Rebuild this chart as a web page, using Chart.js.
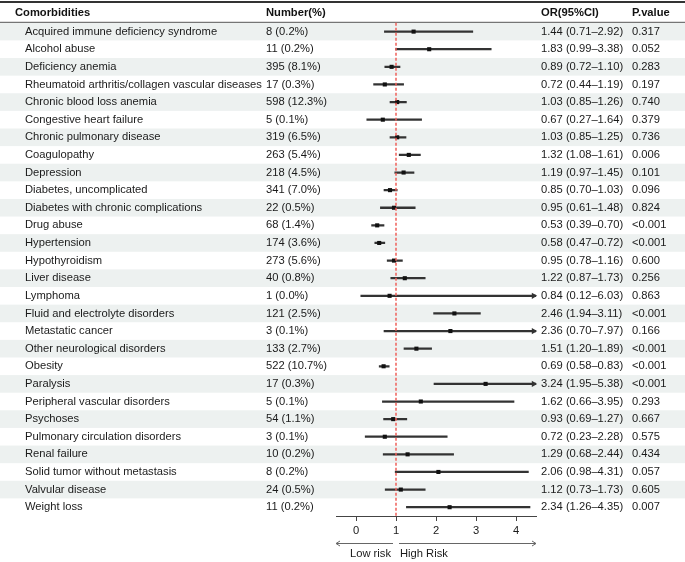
<!DOCTYPE html>
<html>
<head>
<meta charset="utf-8">
<script src="https://cdn.jsdelivr.net/npm/chart.js@4.4.1/dist/chart.umd.min.js"></script>
<style>
  html, body { margin: 0; padding: 0; background: #ffffff; }
  #wrap { width: 685px; height: 562px; }
</style>
</head>
<body>
<div id="wrap"><canvas id="c" width="685" height="562"></canvas></div>
<script>
// ---------------- data ----------------
const comorbidities = [
  "Acquired immune deficiency syndrome", "Alcohol abuse", "Deficiency anemia",
  "Rheumatoid arthritis/collagen vascular diseases", "Chronic blood loss anemia",
  "Congestive heart failure", "Chronic pulmonary disease", "Coagulopathy", "Depression",
  "Diabetes, uncomplicated", "Diabetes with chronic complications", "Drug abuse",
  "Hypertension", "Hypothyroidism", "Liver disease", "Lymphoma",
  "Fluid and electrolyte disorders", "Metastatic cancer", "Other neurological disorders",
  "Obesity", "Paralysis", "Peripheral vascular disorders", "Psychoses",
  "Pulmonary circulation disorders", "Renal failure", "Solid tumor without metastasis",
  "Valvular disease", "Weight loss"
];
const counts   = [8, 11, 395, 17, 598, 5, 319, 263, 218, 341, 22, 68, 174, 273, 40, 1, 121, 3, 133, 522, 17, 5, 54, 3, 10, 8, 24, 11];
const percents = [0.2, 0.2, 8.1, 0.3, 12.3, 0.1, 6.5, 5.4, 4.5, 7.0, 0.5, 1.4, 3.6, 5.6, 0.8, 0.0, 2.5, 0.1, 2.7, 10.7, 0.3, 0.1, 1.1, 0.1, 0.2, 0.2, 0.5, 0.2];
const orValues = [1.44, 1.83, 0.89, 0.72, 1.03, 0.67, 1.03, 1.32, 1.19, 0.85, 0.95, 0.53, 0.58, 0.95, 1.22, 0.84, 2.46, 2.36, 1.51, 0.69, 3.24, 1.62, 0.93, 0.72, 1.29, 2.06, 1.12, 2.34];
const ciLow    = [0.71, 0.99, 0.72, 0.44, 0.85, 0.27, 0.85, 1.08, 0.97, 0.70, 0.61, 0.39, 0.47, 0.78, 0.87, 0.12, 1.94, 0.70, 1.20, 0.58, 1.95, 0.66, 0.69, 0.23, 0.68, 0.98, 0.73, 1.26];
const ciHigh   = [2.92, 3.38, 1.10, 1.19, 1.26, 1.64, 1.25, 1.61, 1.45, 1.03, 1.48, 0.70, 0.72, 1.16, 1.73, 6.03, 3.11, 7.97, 1.89, 0.83, 5.38, 3.95, 1.27, 2.28, 2.44, 4.31, 1.73, 4.35];
const pValues  = ["0.317", "0.052", "0.283", "0.197", "0.740", "0.379", "0.736", "0.006", "0.101", "0.096", "0.824", "<0.001", "<0.001", "0.600", "0.256", "0.863", "<0.001", "0.166", "<0.001", "<0.001", "<0.001", "0.293", "0.667", "0.575", "0.434", "0.057", "0.605", "0.007"];
const headers  = ["Comorbidities", "Number(%)", "OR(95%CI)", "P.value"];
const xTicks   = [0, 1, 2, 3, 4];
const xMin = -0.5, xMax = 4.5;
const refValue = 1;
const riskLabels = ["Low risk", "High Risk"];

// ---------------- derived ----------------
const FONT = "'Liberation Sans', Arial, Helvetica, sans-serif";
const FS = 11.2;
const TXT = '#1a1a1a';
const numberLabels = counts.map((n, i) => `${n} (${percents[i].toFixed(1)}%)`);
const orLabels = orValues.map((v, i) => `${v.toFixed(2)} (${ciLow[i].toFixed(2)}–${ciHigh[i].toFixed(2)})`);
const ciData = comorbidities.map((c, i) => [ciLow[i], Math.min(ciHigh[i], xMax)]);
const pointData = comorbidities.map((c, i) => ({ x: orValues[i], y: c }));
const arrowData = comorbidities
  .map((c, i) => (ciHigh[i] > xMax ? { x: xMax - 0.06, y: c } : null))
  .filter(Boolean);

Chart.defaults.font.family = FONT;
Chart.defaults.font.size = FS;
Chart.defaults.color = TXT;

const W = 685, H = 562;
const TOP = 22.8, BOTTOM = 516;

function catAxis(labels, position, weight, width, crossAlign, pad) {
  return {
    type: 'category', axis: 'y', labels, position, weight, offset: true,
    grid: { display: false, drawTicks: false, offset: true },
    border: { display: false },
    ticks: { autoSkip: false, crossAlign, padding: pad, color: TXT, font: { size: FS, family: FONT } },
    afterFit: s => { s.width = width; }
  };
}

const decor = {
  id: 'forestDecor',
  beforeDraw(chart) {
    const { ctx, chartArea, scales } = chart;
    const y = scales.y;
    const rowH = (y.bottom - y.top) / comorbidities.length;
    ctx.save();
    ctx.fillStyle = '#edf1f0';
    comorbidities.forEach((c, i) => {
      if (i % 2 === 0) {
        const yc = y.getPixelForValue(i);
        ctx.fillRect(0, yc - rowH / 2, chart.width, rowH);
      }
    });
    ctx.fillStyle = '#333333';
    ctx.fillRect(0, 1, chart.width, 2);
    ctx.fillStyle = '#555555';
    ctx.fillRect(0, chartArea.top - 1, chart.width, 1);
    ctx.font = `bold ${FS}px ${FONT}`;
    ctx.fillStyle = '#111111';
    ctx.textBaseline = 'middle';
    ctx.textAlign = 'left';
    const hy = 12.8;
    ctx.fillText(headers[0], 15, hy);
    ctx.fillText(headers[1], scales.yNum.left, hy);
    ctx.fillText(headers[2], scales.yOR.left + 5, hy);
    ctx.fillText(headers[3], scales.yP.left, hy);
    ctx.restore();
  },
  afterDatasetsDraw(chart) {
    const { ctx, chartArea, scales } = chart;
    const xr = scales.x.getPixelForValue(refValue);
    ctx.save();
    ctx.strokeStyle = '#f0605a';
    ctx.lineWidth = 1.5;
    ctx.setLineDash([3, 2]);
    ctx.beginPath();
    ctx.moveTo(xr, chartArea.top);
    ctx.lineTo(xr, chartArea.bottom);
    ctx.stroke();
    ctx.restore();
  },
  afterDraw(chart) {
    const { ctx, scales } = chart;
    const x = scales.x;
    const xr = x.getPixelForValue(refValue);
    const x0 = x.getPixelForValue(xMin);
    const x1 = x.getPixelForValue(xMax);
    const ay = 543.5;
    ctx.save();
    ctx.strokeStyle = '#666666';
    ctx.lineWidth = 1;
    ctx.beginPath();
    ctx.moveTo(xr - 3, ay); ctx.lineTo(x0, ay);
    ctx.moveTo(x0 + 4, ay - 2.5); ctx.lineTo(x0, ay); ctx.lineTo(x0 + 4, ay + 2.5);
    ctx.moveTo(xr + 3, ay); ctx.lineTo(x1, ay);
    ctx.moveTo(x1 - 4, ay - 2.5); ctx.lineTo(x1, ay); ctx.lineTo(x1 - 4, ay + 2.5);
    ctx.stroke();
    ctx.font = `${FS}px ${FONT}`;
    ctx.fillStyle = TXT;
    ctx.textBaseline = 'middle';
    ctx.textAlign = 'right';
    ctx.fillText(riskLabels[0], xr - 5, 554);
    ctx.textAlign = 'left';
    ctx.fillText(riskLabels[1], xr + 4, 554);
    ctx.restore();
  }
};

new Chart(document.getElementById('c'), {
  type: 'bar',
  data: {
    labels: comorbidities,
    datasets: [
      {
        type: 'bar', indexAxis: 'y', data: ciData,
        backgroundColor: '#333333', borderWidth: 0, barThickness: 1.6,
        xAxisID: 'x', yAxisID: 'y', order: 3
      },
      {
        type: 'scatter', data: pointData, showLine: false,
        pointStyle: 'rect', pointRadius: 2.9, pointBackgroundColor: '#111111',
        pointBorderWidth: 0, pointBorderColor: '#111111',
        xAxisID: 'x', yAxisID: 'y', clip: false, order: 1
      },
      {
        type: 'scatter', data: arrowData, showLine: false,
        pointStyle: 'triangle', pointRotation: 90, pointRadius: 3.6,
        pointBackgroundColor: '#333333', pointBorderWidth: 0,
        xAxisID: 'x', yAxisID: 'y', clip: false, order: 2
      }
    ]
  },
  options: {
    indexAxis: 'y',
    responsive: false,
    animation: false,
    events: [],
    layout: { padding: { left: 25, top: TOP, right: 0, bottom: 0 } },
    plugins: { legend: { display: false }, tooltip: { enabled: false } },
    scales: {
      x: {
        type: 'linear', position: 'bottom', min: xMin, max: xMax, offset: false,
        afterBuildTicks: s => { s.ticks = xTicks.map(v => ({ value: v })); },
        afterFit: s => { s.height = H - BOTTOM; },
        grid: { offset: false, drawOnChartArea: false, drawTicks: true, tickLength: 5, color: '#444444', lineWidth: 1 },
        border: { display: true, color: '#444444', width: 1 },
        ticks: { padding: 3, color: TXT, font: { size: FS, family: FONT } }
      },
      y: catAxis(comorbidities, 'left', 2, 241, 'far', 0),
      yNum: catAxis(numberLabels, 'left', 1, 70, 'far', 0),
      yOR: catAxis(orLabels, 'right', 1, 96, 'near', 5),
      yP: catAxis(pValues, 'right', 2, 53, 'near', 0)
    }
  },
  plugins: [decor]
});
</script>
</body>
</html>
